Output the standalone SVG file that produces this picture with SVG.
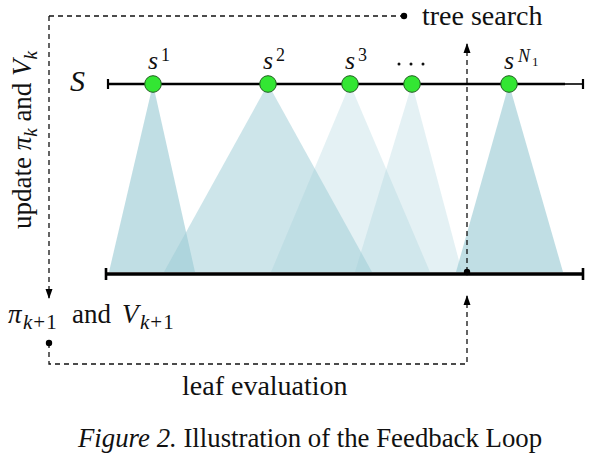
<svg xmlns="http://www.w3.org/2000/svg" width="589" height="464" viewBox="0 0 589 464">
<style>
.t{font-family:"Liberation Serif",Tinos,"Times New Roman","DejaVu Serif",serif;fill:#111}
.m{font-family:"Liberation Serif",Tinos,"Times New Roman","DejaVu Serif",serif;font-style:italic;fill:#111}
.dash{fill:none;stroke:#111;stroke-width:1.3;stroke-dasharray:5 4}
.axis{stroke:#000;fill:none}
.node{fill:#33e633;stroke:#1d5e1d;stroke-width:1}
.tri{fill:#9ccbd5}
</style>
<defs>
<marker id="arr" markerUnits="userSpaceOnUse" markerWidth="10" markerHeight="10" viewBox="0 0 10 10" refX="9" refY="5" orient="auto">
<path d="M0,1.5 L10,5 L0,8.5 Z" fill="#000"/>
</marker>
</defs>
<g id="cones">
<polygon class="tri" points="153,84 109,272 195,272" fill-opacity="0.64"/>
<polygon class="tri" points="268,84 164,272 372,272" fill-opacity="0.5"/>
<polygon class="tri" points="350,84 271,272 430,272" fill-opacity="0.27"/>
<polygon class="tri" points="412,84 355,272 462,272" fill-opacity="0.27"/>
<polygon class="tri" points="509,84 456,272 563,272" fill-opacity="0.64"/>
</g>
<g id="connectors">
<path class="dash" d="M49,16 H403"/>
<path class="dash" d="M49,16 V298" marker-end="url(#arr)"/>
<path class="dash" d="M49,343 V364 H467 V296" marker-end="url(#arr)"/>
<path class="dash" d="M467,272 V44" marker-end="url(#arr)"/>
<circle cx="404" cy="16" r="3.2" fill="#000"/>
<circle cx="49" cy="343" r="3.2" fill="#000"/>
<circle cx="467" cy="272" r="3.2" fill="#000"/>
</g>
<g id="state-space">
<line class="axis" x1="108" y1="84" x2="565" y2="84" stroke-width="2.6"/>
<line class="axis" x1="565" y1="84" x2="583" y2="84" stroke-width="1.6" stroke="#333"/>
<line class="axis" x1="108" y1="79" x2="108" y2="89" stroke-width="2.2"/>
<line class="axis" x1="583" y1="79" x2="583" y2="89" stroke-width="2.2"/>
<text class="m" x="70" y="91" font-size="30">S</text>
</g>
<g id="leaf-space">
<line class="axis" x1="106" y1="274" x2="583" y2="274" stroke-width="3.6"/>
<line class="axis" x1="106" y1="268" x2="106" y2="280" stroke-width="2.6"/>
<line class="axis" x1="583" y1="268" x2="583" y2="280" stroke-width="2.6"/>
</g>
<g id="s1">
<circle class="node" cx="153" cy="84" r="8.3"/>
<text class="m" x="148" y="69" font-size="26">s</text>
<text class="t" x="161" y="61" font-size="18">1</text>
</g>
<g id="s2">
<circle class="node" cx="268" cy="84" r="8.3"/>
<text class="m" x="263" y="69" font-size="26">s</text>
<text class="t" x="276" y="61" font-size="18">2</text>
</g>
<g id="s3">
<circle class="node" cx="350" cy="84" r="8.3"/>
<text class="m" x="345" y="69" font-size="26">s</text>
<text class="t" x="358" y="61" font-size="18">3</text>
</g>
<g id="sdots">
<circle class="node" cx="412" cy="84" r="8.3"/>
<circle cx="399" cy="64" r="1.5" fill="#111"/>
<circle cx="411" cy="64" r="1.5" fill="#111"/>
<circle cx="423" cy="64" r="1.5" fill="#111"/>
</g>
<g id="sN1">
<circle class="node" cx="509" cy="84" r="8.3"/>
<text class="m" x="504" y="69" font-size="26">s</text>
<text class="m" x="518" y="62" font-size="18">N</text>
<text class="t" x="532" y="66" font-size="13">1</text>
</g>
<g id="labels">
<text class="t" x="422" y="25" font-size="28">tree search</text>
<text class="t" x="182" y="395" font-size="28">leaf evaluation</text>
<text transform="translate(31,140) rotate(-90)" text-anchor="middle" font-size="27" class="t">update <tspan class="m">π</tspan><tspan class="m" font-size="19" dy="6">k</tspan><tspan dy="-6"> and </tspan><tspan class="m">V</tspan><tspan class="m" font-size="19" dy="6">k</tspan></text>
<text class="t" y="323" font-size="27"><tspan class="m" x="8">π</tspan><tspan font-size="21" x="23" dy="6" letter-spacing="1"><tspan class="m">k</tspan>+1</tspan><tspan x="72" dy="-6">and</tspan><tspan class="m" x="122">V</tspan><tspan font-size="21" x="140" dy="6" letter-spacing="1"><tspan class="m">k</tspan>+1</tspan></text>
<text class="t" x="78" y="447" font-size="26.8"><tspan font-style="italic">Figure 2.</tspan> Illustration of the Feedback Loop</text>
</g>
</svg>
